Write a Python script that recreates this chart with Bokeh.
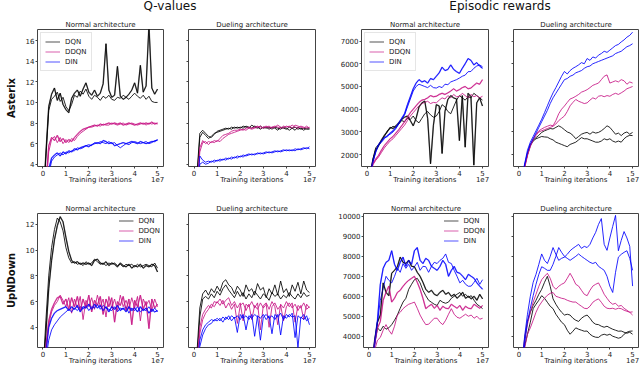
from bokeh.plotting import figure
from bokeh.models import Range1d, FixedTicker, Legend, LegendItem, Div, LinearAxis
from bokeh.layouts import column, row
from bokeh.embed import file_html
from bokeh.resources import INLINE

# ---------------- data (x in units of 1e7 training iterations) ----------------
X = [0.0, 0.125, 0.25, 0.375, 0.5, 0.625, 0.75, 0.875, 1.0, 1.125, 1.25, 1.375, 1.5, 1.625,
     1.75, 1.875, 2.0, 2.125, 2.25, 2.375, 2.5, 2.625, 2.75, 2.875, 3.0, 3.125, 3.25, 3.375,
     3.5, 3.625, 3.75, 3.875, 4.0, 4.125, 4.25, 4.375, 4.5, 4.625, 4.75, 4.875, 5.0]
X_TICKS = [0, 1, 2, 3, 4, 5]
X_TITLE_POS = [2.5, 5]
X_TITLE_TEXT = ["Training iterations", "1e7"]
SERIES = ["DQN", "DDQN", "DIN"]

# Q-values, Asterix, normal architecture
QAN_DQN_1 = [0.0, 5.0, 9.6, 10.8, 11.4, 10.2, 10.9, 9.8, 9.3, 9.0, 10.4, 10.9, 11.2, 10.6, 11.3, 11.9, 11.0, 10.7, 11.2, 10.6, 10.9, 11.8, 15.7, 11.2, 10.5, 10.7, 13.5, 10.6, 10.3, 10.5, 10.8, 11.2, 11.9, 10.9, 13.6, 11.0, 11.6, 17.5, 11.4, 10.8, 11.3]
QAN_DQN_2 = [0.0, 4.6, 9.2, 10.3, 10.6, 11.0, 10.1, 10.5, 9.6, 9.2, 9.8, 10.7, 10.5, 11.1, 10.8, 11.3, 10.6, 10.3, 10.7, 10.5, 10.2, 10.6, 10.4, 10.7, 10.3, 10.2, 10.5, 10.4, 10.7, 10.5, 10.3, 10.6, 10.9, 10.6, 10.4, 10.7, 10.3, 10.6, 10.1, 10.0, 10.0]
QAN_DDQN_1 = [0.0, 2.0, 5.8, 6.6, 6.3, 6.8, 6.2, 6.5, 6.1, 6.4, 6.2, 6.6, 6.9, 7.2, 7.4, 7.5, 7.6, 7.7, 7.8, 7.7, 7.9, 7.8, 7.9, 8.0, 7.9, 8.0, 7.9, 8.0, 7.8, 7.9, 8.0, 7.9, 7.8, 7.9, 8.0, 7.9, 8.0, 7.9, 8.1, 7.9, 8.0]
QAN_DDQN_2 = [0.0, 1.5, 5.2, 6.4, 6.7, 6.1, 6.6, 6.0, 6.4, 6.1, 6.5, 6.3, 6.7, 7.0, 7.2, 7.4, 7.6, 7.6, 7.7, 7.8, 7.7, 7.9, 7.8, 7.8, 8.0, 7.9, 7.8, 7.9, 8.0, 7.8, 7.9, 8.0, 7.9, 7.8, 7.9, 8.0, 7.8, 8.0, 7.9, 8.0, 7.9]
QAN_DIN_1 = [0.0, 1.0, 3.5, 4.6, 4.9, 5.1, 4.8, 5.2, 5.0, 5.3, 5.2, 5.5, 5.4, 5.6, 5.7, 5.8, 5.7, 5.9, 6.0, 6.1, 6.0, 6.3, 6.2, 6.0, 6.1, 5.8, 5.9, 6.0, 6.1, 6.0, 6.1, 6.2, 6.1, 6.0, 6.2, 6.1, 6.0, 6.1, 6.2, 6.2, 6.4]
QAN_DIN_2 = [0.0, 0.8, 3.0, 4.3, 4.7, 4.9, 5.1, 4.9, 5.2, 5.1, 5.3, 5.3, 5.6, 5.5, 5.6, 5.8, 5.9, 5.8, 6.1, 6.0, 6.2, 6.1, 6.0, 6.2, 6.0, 6.1, 5.8, 5.6, 5.8, 6.0, 5.9, 6.1, 6.2, 6.1, 6.0, 6.1, 6.2, 6.0, 6.1, 6.3, 6.3]

# Q-values, Asterix, dueling architecture
QAD_DQN_1 = [0.0, 3.0, 7.0, 7.3, 7.0, 6.7, 6.6, 6.9, 7.2, 7.3, 7.4, 7.5, 7.4, 7.6, 7.5, 7.6, 7.5, 7.7, 7.6, 7.5, 7.8, 7.6, 7.5, 7.7, 7.5, 7.6, 7.4, 7.6, 7.5, 7.3, 7.6, 7.5, 7.4, 7.6, 7.5, 7.3, 7.6, 7.4, 7.5, 7.4, 7.4]
QAD_DQN_2 = [0.0, 2.5, 6.6, 7.1, 6.8, 6.5, 6.7, 7.0, 7.1, 7.2, 7.3, 7.4, 7.5, 7.4, 7.6, 7.5, 7.6, 7.5, 7.7, 7.6, 7.5, 7.7, 7.6, 7.4, 7.6, 7.5, 7.6, 7.4, 7.6, 7.5, 7.4, 7.6, 7.5, 7.3, 7.5, 7.6, 7.4, 7.5, 7.3, 7.5, 7.5]
QAD_DDQN_1 = [0.0, 1.5, 5.6, 6.3, 6.0, 6.2, 6.1, 6.3, 6.2, 6.5, 6.8, 6.9, 7.0, 7.2, 7.3, 7.3, 7.4, 7.3, 7.5, 7.6, 7.5, 7.6, 7.7, 7.5, 7.6, 7.7, 7.5, 7.6, 7.7, 7.6, 7.5, 7.7, 7.6, 7.7, 7.5, 7.8, 7.7, 7.6, 7.5, 7.7, 7.5]
QAD_DDQN_2 = [0.0, 1.2, 5.2, 6.1, 6.2, 5.9, 6.2, 6.1, 6.3, 6.2, 6.5, 6.7, 6.9, 7.0, 7.1, 7.2, 7.3, 7.4, 7.3, 7.5, 7.4, 7.5, 7.6, 7.7, 7.5, 7.6, 7.7, 7.5, 7.6, 7.8, 7.6, 7.5, 7.7, 7.6, 7.8, 7.6, 7.5, 7.7, 7.6, 7.5, 7.6]
QAD_DIN_1 = [0.0, 1.0, 4.8, 4.4, 4.2, 4.3, 4.2, 4.4, 4.3, 4.5, 4.4, 4.6, 4.5, 4.7, 4.6, 4.8, 4.7, 4.9, 4.8, 4.9, 5.0, 4.9, 5.1, 5.0, 5.1, 5.2, 5.1, 5.2, 5.3, 5.2, 5.3, 5.4, 5.3, 5.4, 5.3, 5.5, 5.4, 5.5, 5.6, 5.5, 5.7]
QAD_DIN_2 = [0.0, 0.8, 4.0, 4.2, 4.0, 4.1, 4.3, 4.2, 4.4, 4.3, 4.5, 4.4, 4.6, 4.5, 4.7, 4.6, 4.8, 4.7, 4.9, 5.0, 4.9, 5.0, 5.0, 5.1, 5.0, 5.1, 5.2, 5.1, 5.2, 5.3, 5.2, 5.3, 5.4, 5.3, 5.4, 5.3, 5.5, 5.4, 5.5, 5.6, 5.5]

# Episodic rewards, Asterix, normal architecture
EAN_DQN_1 = [500, 1000, 1750, 2200, 2400, 2650, 2850, 3000, 3200, 3150, 3270, 3400, 3550, 3650, 3700, 3500, 3270, 3600, 4100, 4280, 4360, 3600, 1600, 3300, 4200, 4140, 2050, 3900, 4430, 4600, 4500, 4450, 2620, 4600, 2330, 4700, 4550, 1540, 4280, 4500, 4140]
EAN_DQN_2 = [500, 1000, 1800, 2300, 2450, 2600, 2800, 3050, 3150, 3250, 3200, 3350, 3500, 3450, 3600, 3550, 3700, 3500, 3400, 3600, 3800, 3900, 3750, 3650, 3700, 3900, 4200, 4100, 3900, 3800, 4100, 4400, 4600, 4500, 4400, 4550, 4500, 4700, 4600, 4500, 4400]
EAN_DDQN_1 = [500, 900, 1600, 1800, 1970, 2200, 2400, 2550, 2700, 2800, 2950, 3100, 3270, 3450, 3650, 3850, 4000, 4150, 4300, 4400, 4430, 4500, 4600, 4550, 4570, 4650, 4700, 4650, 4720, 4800, 4900, 4800, 4860, 4950, 5000, 4900, 4930, 5050, 5150, 5100, 5300]
EAN_DDQN_2 = [500, 900, 1550, 1750, 1900, 2100, 2300, 2450, 2600, 2700, 2850, 3000, 3150, 3300, 3500, 3700, 3850, 4000, 4150, 4250, 4300, 4350, 4250, 4300, 4280, 4400, 4500, 4450, 4600, 4500, 4650, 4550, 4570, 4700, 4600, 4500, 4650, 4550, 4600, 4500, 4570]
EAN_DIN_1 = [500, 1000, 1700, 2150, 2450, 2600, 2750, 2800, 2950, 3050, 3200, 3400, 3600, 3800, 4200, 4550, 4900, 5150, 5300, 5200, 5250, 5150, 5350, 5300, 5450, 5600, 5850, 5700, 5750, 5950, 5750, 5650, 5580, 5800, 6000, 6230, 6150, 5950, 6050, 5900, 5800]
EAN_DIN_2 = [500, 1000, 1650, 2100, 2400, 2550, 2700, 2850, 2900, 3000, 3150, 3350, 3550, 3750, 4100, 4450, 4800, 5000, 5100, 5050, 5000, 4950, 5050, 4950, 4930, 5000, 4950, 5100, 5080, 5200, 5250, 5300, 5370, 5450, 5500, 5650, 5660, 5800, 5900, 5950, 5870]

# Episodic rewards, Asterix, dueling architecture
EAD_DQN_1 = [500, 950, 1500, 2050, 2450, 2650, 2750, 2850, 2980, 3050, 3100, 3150, 3130, 3200, 3270, 3200, 3100, 3000, 2950, 2850, 2700, 2800, 2900, 2950, 2980, 2900, 3000, 2950, 2980, 3050, 3150, 3270, 3200, 3050, 2900, 2950, 2840, 2950, 3000, 2900, 2980]
EAD_DQN_2 = [500, 950, 1500, 2000, 2400, 2600, 2700, 2750, 2800, 2780, 2770, 2700, 2650, 2550, 2500, 2450, 2400, 2350, 2450, 2500, 2550, 2650, 2750, 2700, 2700, 2650, 2600, 2550, 2550, 2600, 2700, 2650, 2700, 2600, 2550, 2600, 2550, 2700, 2800, 2850, 2840]
EAD_DDQN_1 = [500, 900, 1450, 2000, 2400, 2700, 2900, 3050, 3130, 3200, 3250, 3300, 3270, 3500, 3800, 4000, 4140, 4300, 4450, 4500, 4570, 4650, 4750, 4800, 4860, 4950, 5050, 5100, 5150, 5300, 5450, 5510, 5150, 5200, 5250, 5200, 5300, 5250, 5100, 5200, 5150]
EAD_DDQN_2 = [500, 850, 1400, 1950, 2350, 2650, 2850, 3000, 3050, 3100, 3150, 3200, 3250, 3350, 3500, 3600, 3700, 3900, 4150, 4300, 4430, 4350, 4300, 4250, 4280, 4400, 4500, 4450, 4570, 4600, 4550, 4600, 4570, 4650, 4700, 4650, 4720, 4800, 4900, 4950, 5000]
EAD_DIN_1 = [500, 1000, 1600, 2200, 2550, 2800, 3050, 3300, 3560, 3850, 4150, 4450, 4720, 4950, 5200, 5450, 5660, 5550, 5700, 5800, 5870, 5950, 6050, 6000, 6230, 6150, 6300, 6250, 6380, 6450, 6550, 6500, 6600, 6700, 6800, 6850, 6960, 7050, 7170, 7250, 7390]
EAD_DIN_2 = [500, 950, 1550, 2100, 2450, 2700, 2950, 3200, 3450, 3700, 3950, 4250, 4500, 4700, 4900, 5100, 5300, 5350, 5450, 5500, 5600, 5650, 5700, 5800, 5870, 5900, 6000, 6050, 6100, 6150, 6200, 6250, 6300, 6350, 6450, 6500, 6550, 6650, 6750, 6800, 6880]

# Q-values, UpNDown, normal architecture
QUN_DQN_1 = [0.5, 3.5, 7.0, 9.2, 10.8, 11.9, 12.6, 12.2, 11.0, 9.9, 9.2, 9.0, 9.1, 8.9, 9.0, 8.9, 9.0, 8.8, 9.2, 9.3, 9.0, 8.9, 9.1, 8.8, 9.0, 8.9, 8.7, 9.0, 8.8, 8.7, 8.9, 8.6, 8.8, 8.7, 8.9, 8.6, 8.8, 8.7, 8.9, 8.8, 8.3]
QUN_DQN_2 = [0.5, 4.5, 8.0, 10.2, 11.6, 12.5, 12.2, 11.5, 10.2, 9.4, 9.0, 9.1, 8.9, 9.0, 8.8, 9.1, 8.9, 9.0, 9.3, 9.1, 8.9, 9.0, 8.8, 9.0, 8.9, 9.0, 8.8, 8.9, 8.7, 8.9, 8.8, 8.9, 8.7, 8.9, 8.7, 8.8, 8.9, 8.8, 8.7, 9.0, 8.6]
QUN_DDQN_1 = [0.5, 2.5, 4.5, 5.4, 5.9, 6.3, 6.4, 5.8, 6.2, 5.4, 6.3, 5.6, 6.4, 5.3, 6.2, 5.5, 6.5, 5.2, 6.1, 5.7, 6.4, 5.0, 6.2, 5.6, 6.3, 4.4, 6.0, 5.7, 6.4, 5.3, 6.2, 4.2, 6.1, 5.6, 6.5, 5.4, 6.0, 3.9, 6.2, 5.5, 5.8]
QUN_DDQN_2 = [0.5, 2.2, 4.2, 5.2, 5.7, 6.0, 6.5, 6.1, 5.6, 6.3, 5.1, 6.2, 5.5, 6.4, 4.6, 6.1, 5.6, 6.3, 5.4, 6.5, 5.6, 6.2, 4.8, 6.4, 5.5, 6.2, 5.3, 6.5, 5.6, 6.1, 5.4, 6.3, 5.5, 6.4, 4.5, 6.2, 5.7, 6.1, 5.3, 6.2, 5.6]
QUN_DIN_1 = [0.5, 2.0, 4.0, 4.7, 5.1, 5.3, 5.4, 5.5, 5.6, 5.3, 5.6, 5.4, 5.7, 5.2, 5.6, 5.5, 5.8, 5.4, 5.8, 5.5, 5.7, 5.3, 5.6, 5.2, 5.6, 5.4, 5.7, 5.3, 5.5, 5.2, 5.6, 5.3, 5.5, 5.2, 5.6, 5.3, 5.5, 5.1, 5.4, 5.2, 5.3]
QUN_DIN_2 = [0.5, 1.5, 3.0, 3.8, 4.2, 4.5, 4.8, 5.0, 5.2, 5.4, 5.2, 5.5, 5.3, 5.6, 5.4, 5.7, 5.3, 5.6, 5.5, 5.8, 5.4, 5.7, 5.5, 5.4, 5.3, 5.6, 5.2, 5.5, 5.4, 5.6, 5.1, 5.5, 5.3, 5.6, 5.2, 5.4, 5.3, 5.6, 5.2, 5.5, 5.2]

# Q-values, UpNDown, dueling architecture
QUD_DQN_1 = [0.5, 2.0, 5.5, 6.6, 6.9, 6.5, 7.0, 6.7, 7.2, 6.8, 7.5, 7.7, 7.3, 7.1, 6.6, 7.2, 6.9, 6.4, 7.3, 6.8, 7.0, 6.5, 7.4, 6.9, 7.1, 6.3, 7.0, 6.6, 7.3, 6.5, 7.6, 6.7, 7.0, 6.4, 7.3, 6.8, 7.5, 6.6, 7.6, 6.9, 6.7]
QUD_DQN_2 = [0.5, 1.5, 4.8, 6.2, 6.4, 6.2, 6.6, 6.3, 6.8, 6.5, 7.0, 7.3, 6.9, 6.6, 6.3, 6.8, 6.4, 6.7, 6.2, 6.6, 6.3, 6.8, 6.5, 6.2, 6.6, 6.4, 6.1, 6.7, 6.4, 6.6, 6.2, 6.5, 6.3, 6.7, 6.4, 6.2, 6.6, 6.3, 6.7, 6.4, 6.5]
QUD_DDQN_1 = [0.5, 1.2, 4.0, 5.0, 5.4, 5.7, 5.5, 6.0, 5.9, 6.2, 5.8, 6.1, 6.3, 5.7, 6.0, 5.5, 5.9, 4.5, 5.8, 5.6, 6.0, 5.5, 5.9, 3.8, 5.7, 5.9, 5.4, 6.0, 5.6, 4.2, 5.8, 5.5, 6.0, 5.6, 5.9, 4.4, 5.7, 5.5, 5.9, 5.4, 5.6]
QUD_DDQN_2 = [0.5, 1.0, 3.5, 4.6, 5.1, 5.4, 5.8, 5.6, 6.0, 5.7, 6.1, 5.5, 5.9, 5.4, 5.8, 4.3, 5.7, 5.9, 5.3, 5.8, 4.6, 5.7, 5.4, 5.9, 5.5, 5.8, 4.0, 5.6, 5.9, 5.4, 5.7, 4.5, 5.6, 5.9, 5.5, 5.8, 5.3, 5.7, 4.6, 5.8, 5.5]
QUD_DIN_1 = [0.5, 1.0, 3.0, 3.8, 4.2, 4.4, 4.6, 4.5, 4.7, 4.5, 4.8, 4.6, 4.9, 4.5, 4.8, 3.6, 5.0, 4.7, 4.9, 4.6, 5.0, 3.3, 4.9, 4.7, 5.0, 4.6, 4.9, 3.5, 5.0, 4.8, 5.1, 4.6, 5.0, 4.8, 5.1, 3.2, 4.9, 4.7, 5.0, 4.5, 4.7]
QUD_DIN_2 = [0.5, 0.8, 2.5, 3.4, 3.9, 4.2, 4.3, 4.6, 4.5, 4.7, 4.4, 4.8, 4.6, 4.9, 4.7, 4.9, 4.6, 5.0, 3.8, 4.9, 4.7, 5.0, 4.8, 3.0, 4.8, 5.0, 4.7, 4.9, 4.6, 5.0, 3.4, 4.9, 4.7, 5.0, 4.8, 4.9, 2.4, 4.8, 4.6, 4.9, 4.2]

# Episodic rewards, UpNDown, normal architecture
EUN_DQN_1 = [1500, 2500, 3800, 4700, 5060, 6670, 6200, 6030, 7150, 7300, 7480, 7960, 7700, 7640, 7800, 7500, 7480, 7200, 7000, 6700, 6350, 6200, 6300, 6100, 6030, 6200, 6300, 6100, 6190, 6000, 6100, 5900, 6030, 6200, 5900, 6000, 5870, 6000, 5800, 6100, 5870]
EUN_DQN_2 = [1500, 2400, 3600, 4420, 4260, 4500, 4350, 4420, 4580, 4800, 5060, 5400, 5710, 5900, 6350, 6600, 6830, 6900, 6670, 6300, 6030, 5800, 5700, 5600, 5540, 5800, 5700, 5650, 5710, 5900, 6000, 6100, 6190, 6000, 6100, 5950, 6030, 5800, 5600, 5500, 5380]
EUN_DDQN_1 = [1500, 2400, 3600, 4400, 4740, 5800, 6190, 6510, 5710, 5900, 6190, 6300, 6500, 6670, 6800, 6900, 7000, 6700, 6350, 5900, 5380, 5500, 5600, 5400, 5540, 5300, 5500, 5400, 5380, 5600, 5500, 5400, 5540, 5300, 5500, 5400, 5380, 5600, 5500, 5400, 5540]
EUN_DDQN_2 = [1500, 2200, 3300, 3800, 3940, 4300, 4580, 4300, 4100, 4500, 5060, 5200, 5380, 5500, 5600, 5650, 5710, 5400, 5060, 4800, 4580, 4600, 4750, 4900, 4900, 4700, 4580, 4800, 5100, 5380, 5100, 4950, 4900, 5000, 5100, 5000, 5060, 4900, 5000, 4850, 4900]
EUN_DIN_1 = [1500, 2500, 3700, 4800, 6600, 7400, 7700, 7800, 8280, 7600, 7300, 7700, 7960, 7500, 7800, 7600, 8280, 8440, 7800, 7640, 7900, 7800, 7500, 7400, 7300, 7500, 7800, 7600, 7000, 7300, 7500, 7200, 7150, 7000, 6830, 7100, 7000, 6900, 6670, 6500, 6350]
EUN_DIN_2 = [1500, 2300, 3500, 4700, 5800, 6400, 7000, 6800, 6670, 7000, 7400, 7200, 7640, 7400, 7600, 7300, 7480, 7700, 7300, 7500, 7480, 7200, 7500, 7700, 7640, 7800, 7900, 8120, 7700, 7640, 7300, 7000, 6670, 6800, 6600, 6500, 6510, 6700, 6900, 6600, 6830]

# Episodic rewards, UpNDown, dueling architecture
EUD_DQN_1 = [1500, 2500, 3900, 4740, 5200, 5540, 5800, 6100, 6350, 6700, 7000, 6500, 5870, 5600, 5380, 5200, 5060, 5100, 5060, 4900, 4800, 4740, 4900, 5000, 5060, 4900, 4700, 4600, 4580, 4500, 4450, 4500, 4420, 4350, 4300, 4250, 4260, 4200, 4150, 4200, 4100]
EUD_DQN_2 = [1500, 2300, 3500, 4100, 4700, 5380, 5600, 5800, 6030, 5900, 5700, 5500, 5380, 5100, 4900, 4700, 4580, 4300, 4100, 4250, 4420, 4350, 4300, 4250, 4260, 4100, 4000, 3950, 3940, 4050, 4100, 4050, 4100, 4000, 3950, 3900, 3940, 4100, 4200, 4250, 4260]
EUD_DDQN_1 = [1500, 2400, 3800, 4600, 5200, 5710, 6100, 6500, 6830, 7000, 7150, 6900, 6500, 6350, 6500, 6600, 6670, 6900, 7150, 6900, 6600, 6510, 6300, 6100, 6030, 6300, 6510, 6600, 6670, 6400, 6100, 5900, 5710, 5600, 5650, 5500, 5540, 5400, 5300, 5200, 5060]
EUD_DDQN_2 = [1500, 2200, 3400, 4100, 4420, 4800, 5200, 5500, 5710, 5900, 6050, 6150, 6190, 6000, 5950, 5900, 5870, 5800, 5750, 5710, 5710, 5600, 5500, 5400, 5380, 5500, 5700, 5800, 5870, 5700, 5500, 5400, 5380, 5400, 5350, 5400, 5380, 5300, 5250, 5200, 5220]
EUD_DIN_1 = [1500, 2500, 4000, 5100, 6000, 6700, 7100, 7600, 8120, 7800, 7640, 8000, 8440, 8100, 7800, 7900, 7960, 8100, 8280, 8400, 8500, 8600, 8400, 8500, 8440, 8600, 8920, 9200, 9600, 9890, 8600, 8300, 8920, 9500, 10050, 8280, 8800, 9240, 8920, 8500, 6510]
EUD_DIN_2 = [1500, 2300, 3600, 4740, 5400, 6030, 6600, 7100, 7480, 7400, 7300, 7300, 7600, 8000, 8440, 8200, 8000, 7900, 7800, 7900, 8000, 8120, 8000, 7900, 7800, 7700, 7640, 7700, 7500, 7400, 7300, 7000, 6500, 6190, 7200, 7960, 8100, 8200, 8280, 7900, 7300]

# axis ranges and ticks
Q_AST_RANGE = (3.78, 17.08)
Q_AST_TICKS = [4, 6, 8, 10, 12, 14, 16]
E_AST_RANGE = (1480, 7507)
E_AST_TICKS = [2000, 3000, 4000, 5000, 6000, 7000]
Q_UPN_RANGE = (2.43, 12.85)
Q_UPN_TICKS = [4, 6, 8, 10, 12]
E_UPN_RANGE = (3435, 10145)
E_UPN_TICKS = [4000, 5000, 6000, 7000, 8000, 9000, 10000]

# ---------------- styling ----------------
FONT = "DejaVu Sans"
COLORS = {"DQN": "#000000", "DDQN": "#c71585", "DIN": "#0000ff"}


def style_axis(ax):
    ax.axis_line_color = None
    ax.major_tick_out = 2
    ax.major_tick_in = 0
    ax.minor_tick_line_color = None
    ax.major_tick_line_color = "#444444"
    ax.major_label_text_font_size = "7px"
    ax.major_label_text_font = FONT
    ax.major_label_text_color = "#222222"
    ax.major_label_standoff = 1


def panel(title, runs, yr, yticks, width, height, bl, br, bt, bb,
          ylabels=True, row_label=None, legend_loc=None, legend_border=True):
    p = figure(width=width, height=height, x_range=Range1d(-0.24, 5.26),
               y_range=Range1d(*yr), output_backend="svg", toolbar_location=None,
               min_border_left=bl, min_border_right=br, min_border_top=bt,
               min_border_bottom=bb, title=title)
    p.title.text_font = FONT
    p.title.text_font_size = "7px"
    p.title.text_font_style = "normal"
    p.title.text_color = "#222222"
    p.title.align = "center"
    p.title.standoff = 1
    p.xgrid.visible = False
    p.ygrid.visible = False
    p.outline_line_color = "#444444"
    p.outline_line_width = 1
    p.outline_line_alpha = 1
    for ax in p.axis:
        style_axis(ax)
    p.xaxis.ticker = FixedTicker(ticks=X_TICKS)
    p.yaxis.ticker = FixedTicker(ticks=yticks)
    if not ylabels:
        p.yaxis.major_label_overrides = {t: "" for t in yticks}
    if row_label:
        p.yaxis.axis_label = row_label
        p.yaxis.axis_label_text_font = FONT
        p.yaxis.axis_label_text_font_size = "10px"
        p.yaxis.axis_label_text_font_style = "bold"
        p.yaxis.axis_label_text_color = "#111111"
        p.yaxis.axis_label_standoff = 6

    # second, label-only x axis: "Training iterations" and the "1e7" offset text
    ax2 = LinearAxis(ticker=FixedTicker(ticks=X_TITLE_POS),
                     major_label_overrides=dict(zip(X_TITLE_POS, X_TITLE_TEXT)))
    style_axis(ax2)
    ax2.major_tick_line_color = None
    ax2.major_tick_out = 0
    ax2.major_label_standoff = -3
    p.add_layout(ax2, "below")

    for name in SERIES:
        for ys in runs[name]:
            p.line(X, ys, line_color=COLORS[name], line_width=1, line_alpha=0.85)

    if legend_loc:
        items = []
        for name in SERIES:
            # faint overlay of the first run, used as the (lighter) legend glyph
            r = p.line(X, runs[name][0], line_color=COLORS[name], line_width=1.5,
                       line_alpha=0.45)
            items.append(LegendItem(label=name, renderers=[r]))
        lg = Legend(items=items, location=legend_loc, label_text_font=FONT,
                    label_text_font_size="7px", label_text_color="#222222",
                    glyph_width=15, glyph_height=9, label_height=9, label_standoff=5,
                    spacing=1, padding=4, margin=3,
                    border_line_color="#cccccc" if legend_border else None,
                    background_fill_alpha=0.9)
        p.add_layout(lg)
    return p


W = [175, 160, 165, 140]
BL = [37, 13, 26, 13]
BR = [12, 20, 12, 2]

# top row: Asterix
H1, BT1, BB1 = 172, 15, 18
a1 = panel("Normal architecture",
           {"DQN": [QAN_DQN_1, QAN_DQN_2], "DDQN": [QAN_DDQN_1, QAN_DDQN_2], "DIN": [QAN_DIN_1, QAN_DIN_2]},
           Q_AST_RANGE, Q_AST_TICKS, W[0], H1, BL[0], BR[0], BT1, BB1,
           row_label="Asterix", legend_loc="top_left")
b1 = panel("Dueling architecture",
           {"DQN": [QAD_DQN_1, QAD_DQN_2], "DDQN": [QAD_DDQN_1, QAD_DDQN_2], "DIN": [QAD_DIN_1, QAD_DIN_2]},
           Q_AST_RANGE, Q_AST_TICKS, W[1], H1, BL[1], BR[1], BT1, BB1, ylabels=False)
c1 = panel("Normal architecture",
           {"DQN": [EAN_DQN_1, EAN_DQN_2], "DDQN": [EAN_DDQN_1, EAN_DDQN_2], "DIN": [EAN_DIN_1, EAN_DIN_2]},
           E_AST_RANGE, E_AST_TICKS, W[2], H1, BL[2], BR[2], BT1, BB1, legend_loc="top_left")
d1 = panel("Dueling architecture",
           {"DQN": [EAD_DQN_1, EAD_DQN_2], "DDQN": [EAD_DDQN_1, EAD_DDQN_2], "DIN": [EAD_DIN_1, EAD_DIN_2]},
           E_AST_RANGE, E_AST_TICKS, W[3], H1, BL[3], BR[3], BT1, BB1, ylabels=False)

# bottom row: UpNDown
H2, BT2, BB2 = 181, 27, 15
a2 = panel("Normal architecture",
           {"DQN": [QUN_DQN_1, QUN_DQN_2], "DDQN": [QUN_DDQN_1, QUN_DDQN_2], "DIN": [QUN_DIN_1, QUN_DIN_2]},
           Q_UPN_RANGE, Q_UPN_TICKS, W[0], H2, BL[0], BR[0], BT2, BB2,
           row_label="UpNDown", legend_loc="top_right", legend_border=False)
b2 = panel("Dueling architecture",
           {"DQN": [QUD_DQN_1, QUD_DQN_2], "DDQN": [QUD_DDQN_1, QUD_DDQN_2], "DIN": [QUD_DIN_1, QUD_DIN_2]},
           Q_UPN_RANGE, Q_UPN_TICKS, W[1], H2, BL[1], BR[1], BT2, BB2, ylabels=False)
c2 = panel("Normal architecture",
           {"DQN": [EUN_DQN_1, EUN_DQN_2], "DDQN": [EUN_DDQN_1, EUN_DDQN_2], "DIN": [EUN_DIN_1, EUN_DIN_2]},
           E_UPN_RANGE, E_UPN_TICKS, W[2], H2, BL[2], BR[2], BT2, BB2,
           legend_loc="top_right", legend_border=False)
d2 = panel("Dueling architecture",
           {"DQN": [EUD_DQN_1, EUD_DQN_2], "DDQN": [EUD_DDQN_1, EUD_DDQN_2], "DIN": [EUD_DIN_1, EUD_DIN_2]},
           E_UPN_RANGE, E_UPN_TICKS, W[3], H2, BL[3], BR[3], BT2, BB2, ylabels=False)

header = Div(
    text=('<div style="position:relative;width:640px;height:14px;font-family:\'DejaVu Sans\';'
          'font-size:12px;color:#111111;">'
          '<span style="position:absolute;left:90px;top:0px;width:160px;text-align:center;'
          'white-space:nowrap;line-height:13px;">Q-values</span>'
          '<span style="position:absolute;left:420px;top:0px;width:160px;text-align:center;'
          'white-space:nowrap;line-height:13px;">Episodic rewards</span></div>'),
    width=640, height=14, margin=(0, 0, 0, 0))

layout = column(header,
                row(a1, b1, c1, d1, spacing=0),
                row(a2, b2, c2, d2, spacing=0),
                spacing=0)

open("out.html", "w").write(file_html(layout, INLINE))
